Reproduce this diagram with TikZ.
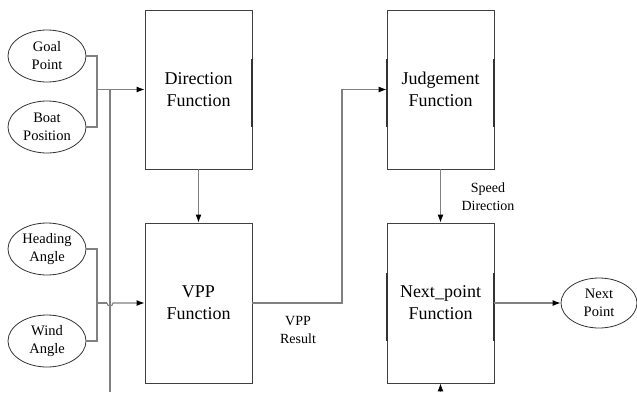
\documentclass[tikz,border=0pt]{standalone}
\usepackage{fontspec}
\setmainfont{Liberation Serif}
\usetikzlibrary{arrows.meta,shapes.geometric,calc}
\begin{document}
\begin{tikzpicture}[x=1pt,y=-1pt,
  fbox/.style={draw=black!75,line width=0.8pt,rectangle,minimum width=107pt,minimum height=159pt,align=center,inner sep=0pt,font=\fontsize{18}{22}\selectfont},
  oval/.style={draw=black!80,line width=0.8pt,ellipse,minimum width=78pt,minimum height=52pt,inner sep=0pt,align=center,font=\fontsize{14.5}{18}\selectfont},
  conn/.style={draw=black!50,line width=1.1pt},
  arr/.style={conn,-{Latex[length=8pt,width=6pt,color=black]}},
  bar/.style={draw=black!80,line width=2pt},
  lbl/.style={align=center,font=\fontsize{14}{18}\selectfont,inner sep=0pt}]
\useasboundingbox (0,0) rectangle (637,392);
% ovals
\node[oval] (goal) at (47,56) {Goal\\Point};
\node[oval] (boat) at (47,127) {Boat\\Position};
\node[oval] (head) at (47,249) {Heading\\Angle};
\node[oval] (wind) at (47,341) {Wind\\Angle};
\node[oval,minimum width=76pt,minimum height=50pt] (next) at (599,303) {Next\\Point};
% boxes
\node[fbox] (dir) at (198.5,89.5) {Direction\\Function};
\node[fbox,minimum height=160pt] (vpp) at (198.5,303) {VPP\\Function};
\node[fbox] (judge) at (440.5,89.5) {Judgement\\Function};
\node[fbox,minimum height=160pt] (np) at (440.5,303) {Next\_point\\Function};
% bars
\draw[bar] (252,59) -- (252,127);
\draw[bar] (387,59) -- (387,127);
\draw[bar] (494,59) -- (494,127);
\draw[bar] (387,273) -- (387,341);
\draw[bar] (494,273) -- (494,341);
% coordinates
\coordinate (b1) at (97,89.5);
\coordinate (b2) at (97,303);
\coordinate (v1) at (110,89.5);
\coordinate (vbot) at (110,392);
\coordinate (h1) at (107,303);
\coordinate (r1) at (342,89.5);
\coordinate (nbot) at (440.5,392);
% connectors
\draw[conn] (goal.east) -| (b1);
\draw[conn] (boat.east) -| (b1);
\draw[arr] (b1) -- (dir.west);
\draw[conn] (v1) -- (vbot);
\draw[conn] (head.east) -| (b2);
\draw[conn] (wind.east) -| (b2);
\draw[conn] (b2) -- (h1);
\draw[arr] (h1) arc[start angle=180,end angle=0,radius=3] -- (vpp.west);
\draw[arr] (dir.south) -- (vpp.north);
\draw[arr] (vpp.east) -| (r1) -- (judge.west);
\draw[arr] (judge.south) -- (np.north);
\draw[arr] (np.east) -- (next.west);
\draw[arr] (nbot) -- (np.south);
% labels
\node[lbl] (vppres) at (298,330) {VPP\\Result};
\node[lbl] (spd) at (488,197) {Speed\\Direction};
\end{tikzpicture}
\end{document}
